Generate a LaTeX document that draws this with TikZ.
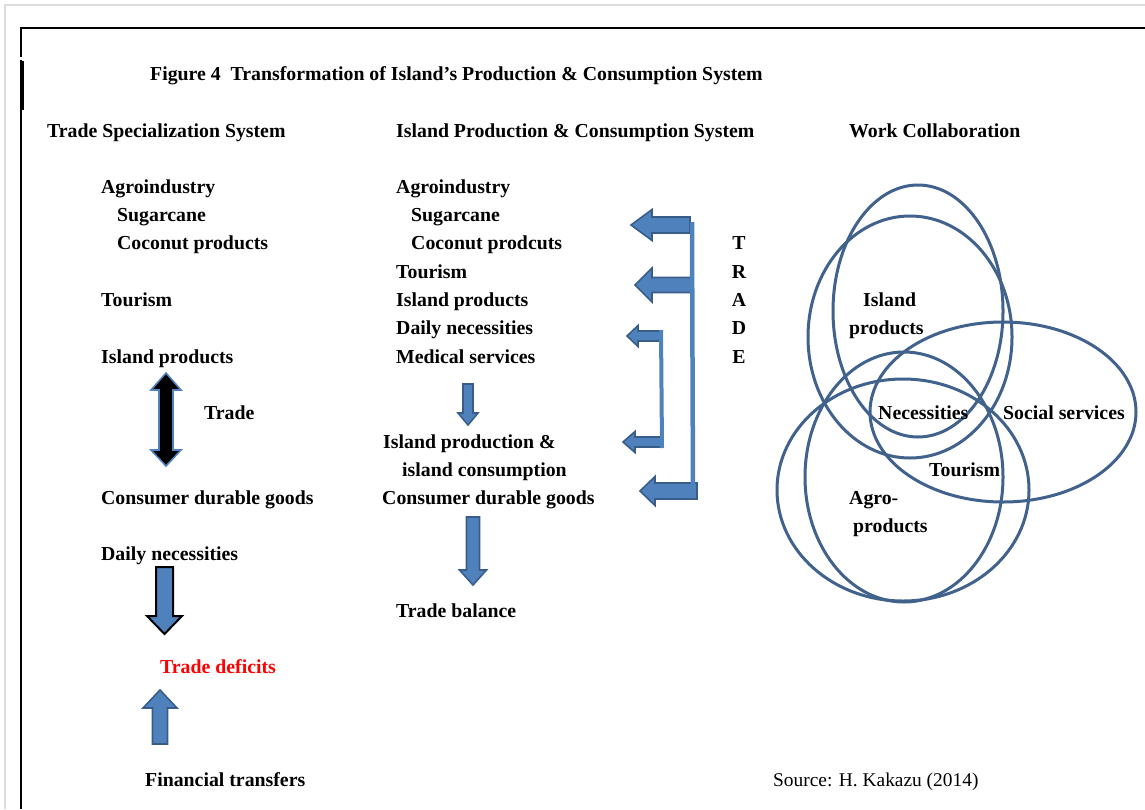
\documentclass[tikz,border=0pt]{standalone}
\usepackage{fontspec}
\setmainfont{Liberation Serif}
\definecolor{arrfill}{HTML}{4F81BD}
\definecolor{arrline}{HTML}{385D8A}
\definecolor{vennline}{HTML}{41628C}
\definecolor{pagegray}{HTML}{DDDDDD}

% Block arrow pointing left: [style]{tip x}{y}{tail x}{shaft half}{head half}{head length}
\newcommand{\leftblockarrow}[7][]{%
  \draw[#1] (#2,#3) -- (#2+#7,#3-#6) -- (#2+#7,#3-#5) -- (#4,#3-#5)
    -- (#4,#3+#5) -- (#2+#7,#3+#5) -- (#2+#7,#3+#6) -- cycle;}
% Vertical block arrow: [style]{x}{tip y}{tail y}{shaft half}{head half}{head length}
\newcommand{\vertblockarrow}[7][]{%
  \pgfmathsetmacro{\arrHeadBase}{#3+((#4>#3)?1:-1)*#7}%
  \draw[#1] (#2,#3) -- (#2+#6,\arrHeadBase) -- (#2+#5,\arrHeadBase) -- (#2+#5,#4)
    -- (#2-#5,#4) -- (#2-#5,\arrHeadBase) -- (#2-#6,\arrHeadBase) -- cycle;}

\begin{document}
\begin{tikzpicture}[x=1pt,y=-1pt,
  txt/.style={anchor=base west,inner sep=0pt,font=\fontsize{19.8}{24}\selectfont\bfseries},
  letter/.style={anchor=base,inner sep=0pt,font=\fontsize{19.8}{24}\selectfont\bfseries},
  src/.style={anchor=base west,inner sep=0pt,font=\fontsize{19.4}{24}\selectfont},
  bluearrow/.style={fill=arrfill,draw=arrline,line width=1.6pt,line join=miter},
  blackedge/.style={fill=arrfill,draw=black,line width=2pt,line join=miter},
  tradeline/.style={draw=arrfill,line width=4.5pt},
  venn/.style={draw=vennline,line width=3pt}]

\useasboundingbox (0,0) rectangle (1145,809);
\fill[white] (0,0) rectangle (1145,809);

% page edge and frame
\draw[pagegray,line width=1.5pt] (5,809) -- (5,5) -- (1145,5);
\draw[black,line width=2.2pt] (21,809) -- (21,28) -- (1145,28);
\fill[white] (19,57) rectangle (24,60);
\draw[black,line width=3pt] (22,61) -- (22,110);

% title and column headings
\node[txt] (title) at (150,80) {Figure 4\ \ Transformation of Island’s Production \& Consumption System};
\node[txt] (h1) at (47,137) {Trade Specialization System};
\node[txt] (h2) at (396,137) {Island Production \& Consumption System};
\node[txt] (h3) at (849,137) {Work Collaboration};

% trade specialization column
\node[txt] (l1) at (101,193) {Agroindustry};
\node[txt] (l2) at (117,221) {Sugarcane};
\node[txt] (l3) at (117,249) {Coconut products};
\node[txt] (l4) at (101,306) {Tourism};
\node[txt] (l5) at (101,363) {Island products};
\node[txt] (l6) at (204,419) {Trade};
\node[txt] (l7) at (101,504) {Consumer durable goods};
\node[txt] (l8) at (101,560) {Daily necessities};
\node[txt,text=red] (l9) at (160,673) {Trade deficits};
\node[txt] (l10) at (145,786) {Financial transfers};

% island production & consumption column
\node[txt] (m1) at (396,193) {Agroindustry};
\node[txt] (m2) at (411,221) {Sugarcane};
\node[txt] (m3) at (411,249) {Coconut prodcuts};
\node[txt] (m4) at (396,278) {Tourism};
\node[txt] (m5) at (396,306) {Island products};
\node[txt] (m6) at (396,334) {Daily necessities};
\node[txt] (m7) at (396,363) {Medical services};
\node[txt] (m8) at (383,448) {Island production \&};
\node[txt] (m9) at (402,476) {island consumption};
\node[txt] (m10) at (382,504) {Consumer durable goods};
\node[txt] (m11) at (396,617) {Trade balance};

% vertical TRADE label
\node[letter] (t1) at (739,249) {T};
\node[letter] (t2) at (739,278) {R};
\node[letter] (t3) at (739,306) {A};
\node[letter] (t4) at (739,334) {D};
\node[letter] (t5) at (739,363) {E};

% left column arrows
\draw[fill=black,draw=arrfill,line width=1.6pt,line join=miter]
  (166,373) -- (181,390) -- (173,390) -- (173,450) -- (181,450) -- (166,466)
  -- (151,450) -- (159,450) -- (159,390) -- (151,390) -- cycle;
\vertblockarrow[blackedge]{164.5}{634}{567}{8.5}{17.5}{18}
\vertblockarrow[bluearrow]{160}{690}{744}{7.5}{17}{18}

% middle column arrows
\vertblockarrow[bluearrow]{468}{425}{384}{5}{10}{12}
\vertblockarrow[bluearrow]{473}{585}{517}{6.5}{13.5}{15}

% trade bracket
\leftblockarrow[bluearrow]{631}{225}{690}{8}{15.5}{21}
\leftblockarrow[bluearrow]{635}{285}{693}{7.5}{17}{17}
\leftblockarrow[bluearrow]{627}{336}{662}{5}{10.5}{11}
\leftblockarrow[bluearrow]{623}{442}{662}{5}{10.5}{12}
\leftblockarrow[bluearrow]{640}{491}{697}{8}{14.5}{15}
\draw[tradeline] (692,222) -- (693,498);
\draw[tradeline,line width=4pt] (661,330) -- (662,448);

% work collaboration sets
\draw[venn] (918,311) ellipse [x radius=85,y radius=126];
\draw[venn] (910,337) ellipse [x radius=102,y radius=121];
\draw[venn] (1003,412) ellipse [x radius=133,y radius=90];
\draw[venn] (904,477) ellipse [x radius=99,y radius=125];
\draw[venn] (903,490) ellipse [x radius=126,y radius=111];

\node[txt] (v1) at (863,306) {Island};
\node[txt] (v2) at (849,334) {products};
\node[txt] (v3) at (878,419) {Necessities};
\node[txt] (v4) at (1003,419) {Social services};
\node[txt] (v5) at (929,476) {Tourism};
\node[txt] (v6) at (849,504) {Agro-};
\node[txt] (v7) at (853,532) {products};

\node[src] (source) at (773,786) {Source: H. Kakazu (2014)};
\end{tikzpicture}
\end{document}
